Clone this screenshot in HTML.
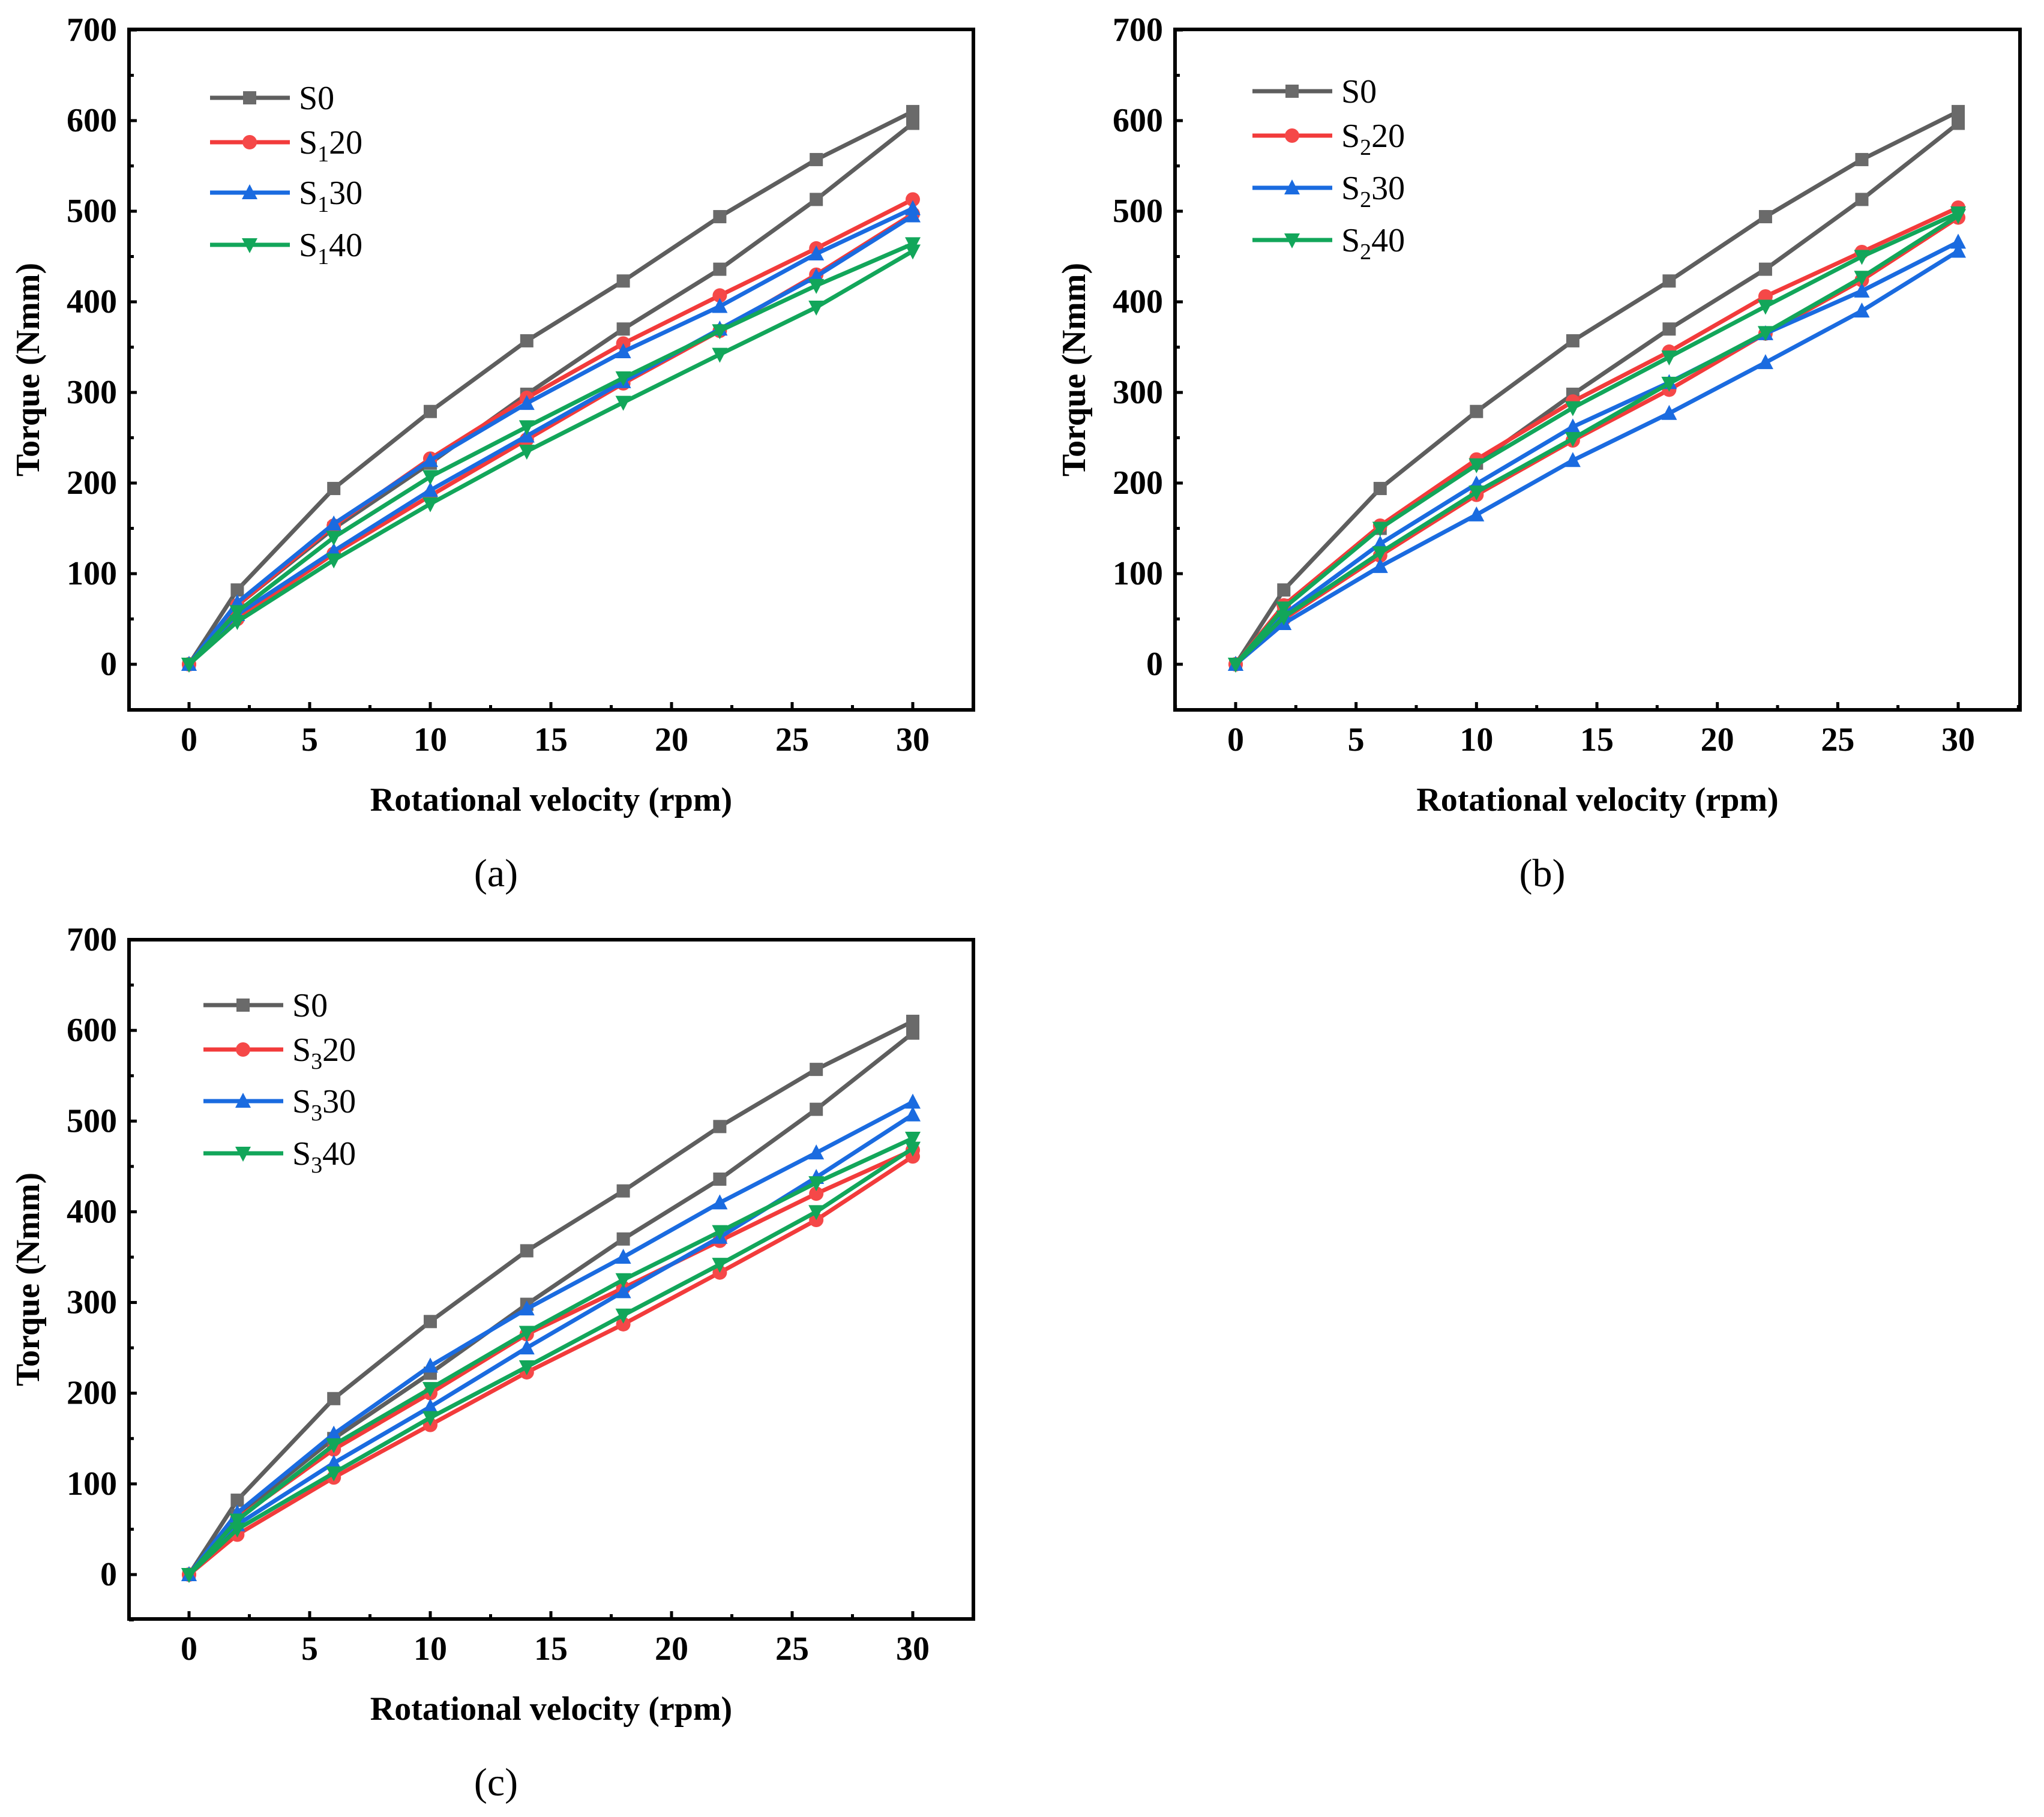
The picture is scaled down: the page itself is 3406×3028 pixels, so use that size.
<!DOCTYPE html>
<html><head><meta charset="utf-8">
<style>
html,body{margin:0;padding:0;background:#fff;}
svg{display:block;}
svg text{font-family:"Liberation Serif","DejaVu Serif",serif;}
</style></head>
<body>
<svg id="fig" width="3406" height="3028" viewBox="0 0 3406 3028" xmlns="http://www.w3.org/2000/svg"></svg>
<script>
const xs = [0,2,6,10,14,18,22,26,30];
const xTicks = [0,5,10,15,20,25,30];
const yTicks = [0,100,200,300,400,500,600,700];
const s0Up = [0,82,194,279,357,423,494,557,610];
const s0Lo = [0,65,150,222,298,370,436,513,597];
const a20Up = [0,65,153,227,294,354,407,459,513];
const a20Lo = [0,50,122,186,248,310,368,430,497];
const a30Up = [0,68,155,225,288,345,395,453,503];
const a30Lo = [0,55,125,192,252,312,370,428,495];
const a40Up = [0,58,140,207,262,316,368,418,464];
const a40Lo = [0,47,115,177,235,289,342,394,456];
const b20Up = [0,65,153,226,290,345,406,455,504];
const b20Lo = [0,50,120,187,247,303,365,424,493];
const b30Up = [0,55,133,199,262,311,365,412,466];
const b30Lo = [0,45,108,165,225,277,333,390,456];
const b40Up = [0,62,150,220,283,339,395,450,498];
const b40Lo = [0,52,123,190,249,310,366,427,495];
const c20Up = [0,62,138,200,265,316,368,420,468];
const c20Lo = [0,44,107,165,223,276,333,391,461];
const c30Up = [0,68,155,230,293,350,410,465,521];
const c30Lo = [0,55,123,185,250,312,372,438,507];
const c40Up = [0,60,143,205,267,325,378,432,481];
const c40Lo = [0,50,112,173,229,286,342,400,470];

const NS = "http://www.w3.org/2000/svg";
const svg = document.getElementById('fig');
const COL = {gray:'#5e5e5e', red:'#f23b3b', blue:'#1a6be0', green:'#12a65a'};
const MCOL = {gray:'#6a6a6a', red:'#f54848', blue:'#1a6be0', green:'#12a65a'};
const FONT = "font-family:'Liberation Serif','DejaVu Serif',serif;";

function el(tag, attrs, parent){
  const e = document.createElementNS(NS, tag);
  for (const k in attrs) e.setAttribute(k, attrs[k]);
  (parent||svg).appendChild(e);
  return e;
}

function marker(g, type, cx, cy, color){
  const r = 11;
  if (type==='sq') return el('rect',{x:cx-r,y:cy-r,width:2*r,height:2*r,fill:color},g);
  if (type==='ci') return el('circle',{cx:cx,cy:cy,r:r+1,fill:color},g);
  if (type==='up') return el('polygon',{points:`${cx},${cy-r-3} ${cx-r-2},${cy+r} ${cx+r+2},${cy+r}`,fill:color},g);
  return el('polygon',{points:`${cx},${cy+r+3} ${cx-r-2},${cy-r} ${cx+r+2},${cy-r}`,fill:color},g);
}

function txt(g, attrs, style, content){
  const t = el('text', attrs, g);
  t.setAttribute('style', FONT + style);
  if (content !== undefined) t.textContent = content;
  return t;
}

function panel(P){
  const g = el('g',{});
  
  
  const X = v => P.x0 + v * (P.x30 - P.x0) / 30;
  const Y = v => P.y0 - v * (P.y0 - P.y700) / 700;
  P.series.forEach(s => {
    [s.up, s.lo].forEach((arr, i) => {
      const sg = el('g',{},g);
      
      
      const pts = xs.map((x,j)=>X(x)+','+Y(arr[j])).join(' ');
      el('polyline',{points:pts,fill:'none',stroke:COL[s.c],'stroke-width':7,'stroke-linejoin':'round'},sg);
      xs.forEach((x,j)=>marker(sg, s.m, X(x), Y(arr[j]), MCOL[s.c]));
    });
  });
  const fr = el('rect',{x:P.left,y:P.top,width:P.right-P.left,height:P.bottom-P.top,fill:'none',stroke:'#000','stroke-width':6},g);
  
  
  for (let v=-50; v<=700; v+=50){
    const major = v%100===0 && v>=0;
    el('line',{x1:P.left,x2:P.left+(major?13:8),y1:Y(v),y2:Y(v),stroke:'#000','stroke-width':5},g);
  }
  yTicks.forEach(v=>{
    const t = txt(g,{x:P.left-20,y:Y(v)+18,'text-anchor':'end'},'font-weight:bold;font-size:56px;',v);
    
    
  });
  for (let v=-2.5; v<=32.5; v+=2.5){
    const major = v%5===0;
    el('line',{x1:X(v),x2:X(v),y1:P.bottom,y2:P.bottom-(major?13:8),stroke:'#000','stroke-width':5},g);
  }
  xTicks.forEach(v=>{
    const t = txt(g,{x:X(v),y:P.bottom+68,'text-anchor':'middle'},'font-weight:bold;font-size:56px;',v);
    
    
  });
  const xt = txt(g,{x:(P.left+P.right)/2,y:P.bottom+168,'text-anchor':'middle'},'font-weight:bold;font-size:56px;','Rotational velocity (rpm)');
  
  
  const yx = P.left-150, yy=(P.top+P.bottom)/2;
  const yt = txt(g,{x:yx,y:yy,'text-anchor':'middle',transform:`rotate(-90 ${yx} ${yy})`},'font-weight:bold;font-size:56px;','Torque (Nmm)');
  
  
  const pl = txt(g,{x:(P.left+P.right)/2 - 92,y:P.bottom+294,'text-anchor':'middle'},'font-size:66px;','('+P.id+')');
  
  
  P.series.forEach((s,i)=>{
    const lg = el('g',{},g);
    
    
    const ly = P.legY[i];
    el('line',{x1:P.legX,x2:P.legX+133,y1:ly,y2:ly,stroke:COL[s.c],'stroke-width':7},lg);
    marker(lg, s.m, P.legX+66, ly, MCOL[s.c]);
    const t = txt(lg,{x:P.legX+148,y:ly+19},'font-size:56px;');
    if (s.sub){
      t.appendChild(document.createTextNode('S'));
      const ts = el('tspan',{dy:13},t); ts.setAttribute('style','font-size:38px;'); ts.textContent = s.sub;
      const t2 = el('tspan',{dy:-13},t); t2.textContent = s.rest;
    } else t.textContent = s.label;
  });
}

function mk(sub, up20, lo20, up30, lo30, up40, lo40){
  return [
    {name:'s0', label:'S0', c:'gray', m:'sq', up:s0Up, lo:s0Lo},
    {name:'s'+sub+'-20', sub:sub, rest:'20', c:'red', m:'ci', up:up20, lo:lo20},
    {name:'s'+sub+'-30', sub:sub, rest:'30', c:'blue', m:'up', up:up30, lo:lo30},
    {name:'s'+sub+'-40', sub:sub, rest:'40', c:'green', m:'dn', up:up40, lo:lo40}
  ];
}

panel({id:'a', left:215, right:1622, top:49, bottom:1183, x0:315, x30:1521, y0:1107, y700:50,
  legX:350, legY:[163,237,321,408], series:mk('1',a20Up,a20Lo,a30Up,a30Lo,a40Up,a40Lo)});
panel({id:'b', left:1958, right:3366, top:49, bottom:1183, x0:2059, x30:3263, y0:1107, y700:50,
  legX:2087, legY:[152,226,313,400], series:mk('2',b20Up,b20Lo,b30Up,b30Lo,b40Up,b40Lo)});
panel({id:'c', left:215, right:1622, top:1566, bottom:2698, x0:315, x30:1521, y0:2624, y700:1566,
  legX:339, legY:[1675,1749,1835,1922], series:mk('3',c20Up,c20Lo,c30Up,c30Lo,c40Up,c40Lo)});
</script>
</body></html>
